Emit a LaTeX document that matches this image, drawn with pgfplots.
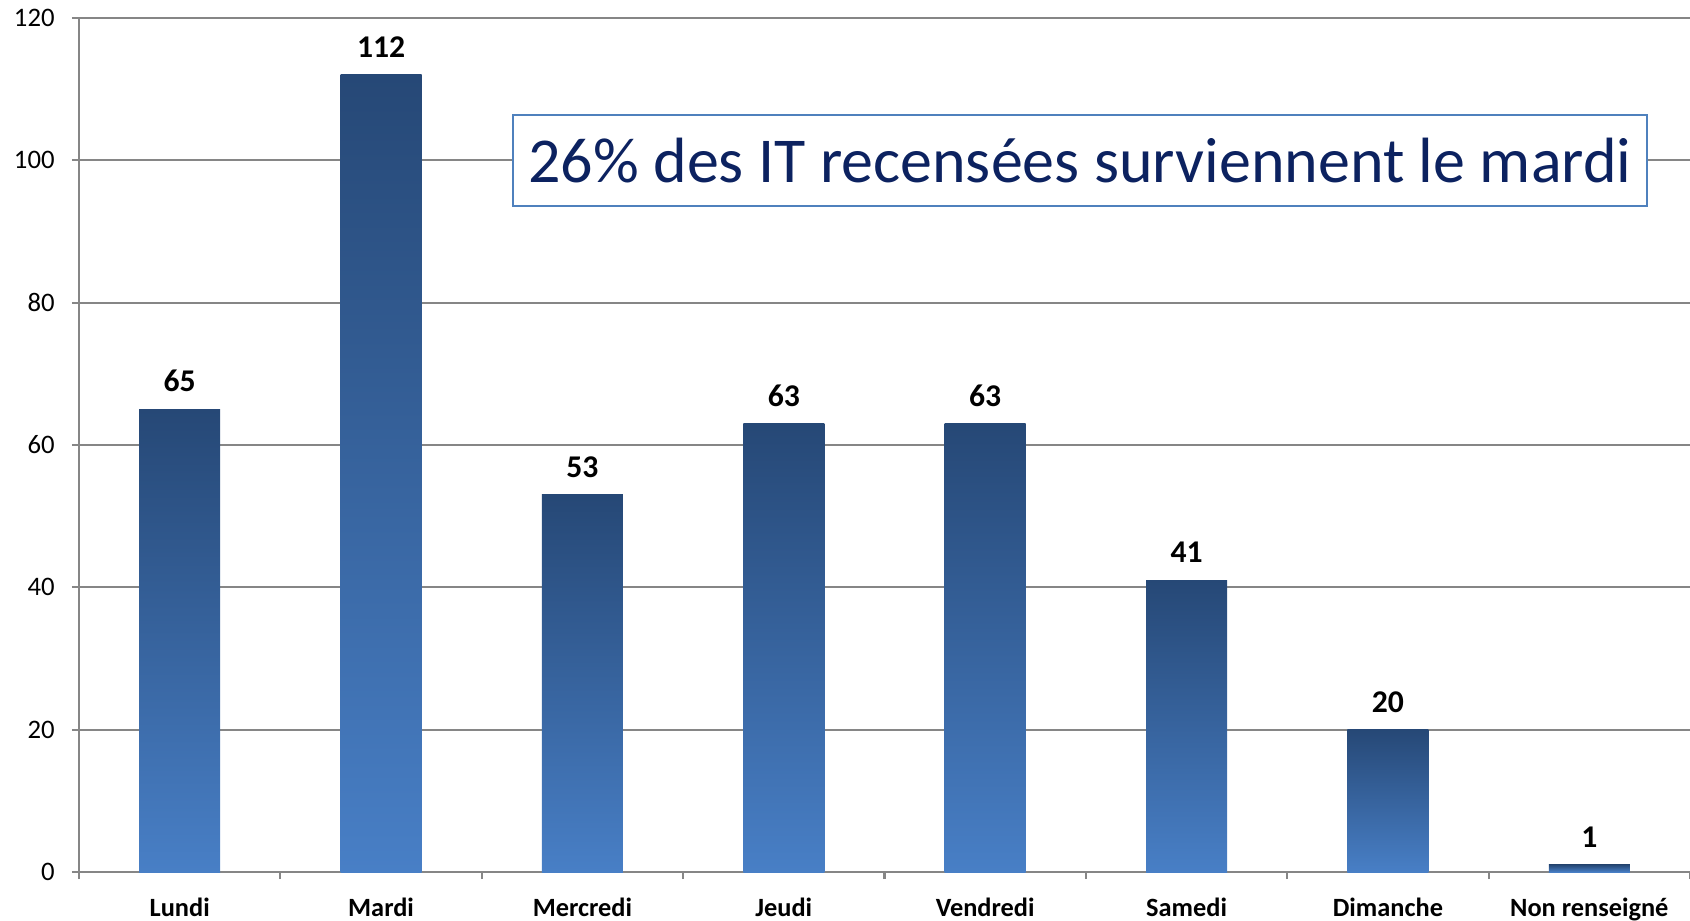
\documentclass[border=0pt]{standalone}
\usepackage{pgfplots}
\pgfplotsset{compat=1.18}
\usepackage{fontspec}
\setmainfont{Carlito}
\definecolor{bartop}{RGB}{38,72,118}
\definecolor{barbot}{RGB}{72,127,198}
\definecolor{gridgray}{RGB}{134,134,134}
\definecolor{boxline}{RGB}{79,129,189}
\definecolor{boxtext}{RGB}{12,34,96}

\begin{document}
\begin{tikzpicture}
\begin{axis}[
    scale only axis,
    width=16.11cm, height=8.54cm,
    xmin=-0.5, xmax=7.5, ymin=0, ymax=120,
    ytick={0,20,...,120},
    xtick={-0.5,0.5,...,7.5},
    x tick label as interval,
    xticklabels={Lundi,Mardi,Mercredi,Jeudi,Vendredi,Samedi,Dimanche,Non renseigné},
    xticklabel style={font=\fontsize{7.5}{9}\selectfont\bfseries, yshift=-0.07cm},
    yticklabel style={font=\fontsize{7.6}{9}\selectfont, xshift=-0.05cm},
    /pgf/number format/assume math mode=true,
    axis x line*=bottom, axis y line*=left,
    axis line style={gridgray, line width=0.6pt},
    tick style={gridgray, line width=0.6pt},
    tick align=outside, major tick length=0.07cm,
    ymajorgrids, grid style={gridgray, line width=0.5pt},
    clip=false,
    ybar, bar width=0.81cm, bar shift=0pt,
    nodes near coords,
    every node near coord/.append style={text=black, font=\fontsize{9}{11}\selectfont\bfseries, yshift=0.05cm},
    every axis plot/.append style={draw=none, top color=bartop, bottom color=barbot},
]
% one plot per bar so that each bar gets its own gradient
\addplot coordinates {(0,65)};
\addplot coordinates {(1,112)};
\addplot coordinates {(2,53)};
\addplot coordinates {(3,63)};
\addplot coordinates {(4,63)};
\addplot coordinates {(5,41)};
\addplot coordinates {(6,20)};
\addplot coordinates {(7,1)};
\node[draw=boxline, line width=0.6pt, fill=white, text=boxtext,
      minimum width=11.34cm, minimum height=0.91cm, inner sep=0pt,
      font=\fontsize{18.2}{22}\selectfont] at (axis cs:4.47,100)
      {26\% des IT recensées surviennent le mardi};
\coordinate (bl) at (rel axis cs:0,0);
\coordinate (tr) at (rel axis cs:1,1);
\end{axis}
\pgfresetboundingbox
\path[use as bounding box] ([xshift=-0.79cm,yshift=-0.48cm]bl) rectangle ([yshift=0.18cm]tr);
\end{tikzpicture}
\end{document}
